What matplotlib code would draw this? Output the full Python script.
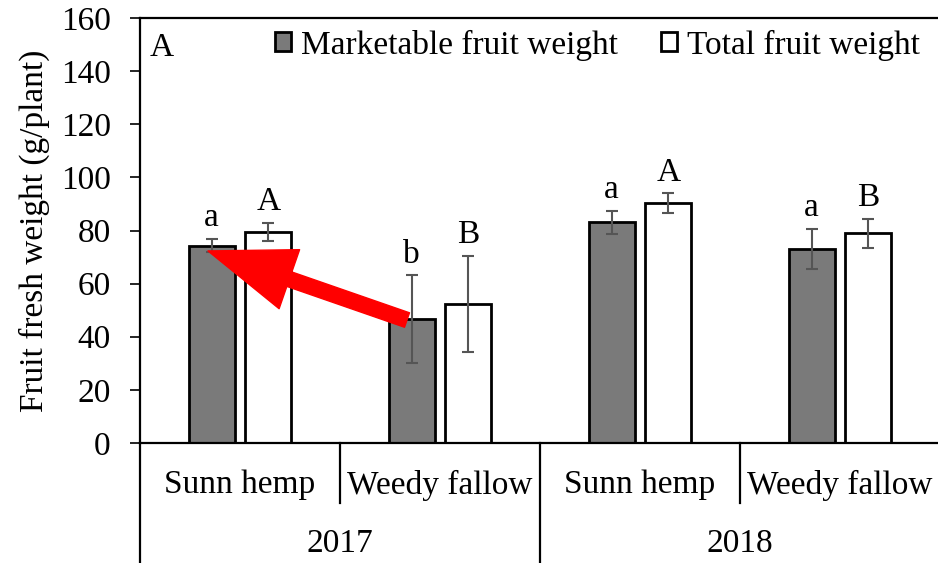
import matplotlib
matplotlib.use("Agg")
import matplotlib.pyplot as plt
from matplotlib.lines import Line2D
import numpy as np

plt.rcParams["font.family"] = ["Liberation Serif", "DejaVu Serif"]
plt.rcParams["font.size"] = 24

# data
treatments = ["Sunn hemp", "Weedy fallow", "Sunn hemp", "Weedy fallow"]
years = ["2017", "2018"]
marketable = [74.3, 46.7, 83.1, 73.0]
marketable_err = [2.5, 16.5, 4.4, 7.6]
total = [79.5, 52.3, 90.3, 79.0]
total_err = [3.5, 18.2, 3.7, 5.5]
letters_mkt = ["a", "b", "a", "a"]
letters_tot = ["A", "B", "A", "B"]

W, H = 938, 563
fig = plt.figure(figsize=(W / 100, H / 100), dpi=100)
ax = fig.add_axes([140 / W, 120 / H, 800 / W, 425 / H])

x = np.arange(len(treatments))
bw, off = 0.23, 0.142
ekw = dict(ecolor="#555555", elinewidth=1.5, capsize=4.5, capthick=1.5)
ax.bar(x - off, marketable, bw, yerr=marketable_err, color="#7a7a7a",
       edgecolor="black", linewidth=2, error_kw=ekw,
       label="Marketable fruit weight", zorder=2)
ax.bar(x + off, total, bw, yerr=total_err, color="white",
       edgecolor="black", linewidth=2, error_kw=ekw,
       label="Total fruit weight", zorder=2)

for xi, v, e, s in zip(x - off, marketable, marketable_err, letters_mkt):
    ax.annotate(s, (xi, v + e), xytext=(0, 9), textcoords="offset points",
                ha="center", va="baseline")
for xi, v, e, s in zip(x + off, total, total_err, letters_tot):
    ax.annotate(s, (xi, v + e), xytext=(0, 9), textcoords="offset points",
                ha="center", va="baseline")

ax.set_xlim(-0.5, 3.5)
ax.set_ylim(0, 160)
ax.set_yticks(np.arange(0, 161, 20))
ax.tick_params(axis="y", direction="out", length=7, width=1.2, pad=14)
ax.set_xticks([])
for sp in ["left", "top", "bottom"]:
    ax.spines[sp].set_linewidth(1.6)
ax.spines["right"].set_visible(False)
ax.set_ylabel("Fruit fresh weight (g/plant)")
ax.yaxis.set_label_coords(-0.113, 0.5)

ax.text(0.012, 0.93, "A", transform=ax.transAxes, ha="left", va="center")
ax.legend(loc="upper right", bbox_to_anchor=(1.0, 1.02), ncol=2, frameon=False,
          handlelength=0.48, handleheight=0.48, handletextpad=0.3,
          columnspacing=1.3, borderaxespad=0.2)

# two-level category axis
trans = ax.get_xaxis_transform()
for xv, y0 in [(-0.5, -0.29), (0.5, -0.141), (1.5, -0.29), (2.5, -0.141)]:
    ax.add_line(Line2D([xv, xv], [0, y0], transform=trans, color="black",
                       lw=1.6, clip_on=False))
for xi, t in zip(x, treatments):
    ax.text(xi, -0.099, t, transform=trans, ha="center", va="center")
for i, yr in enumerate(years):
    ax.text(2 * i + 0.5, -0.236, yr, transform=trans, ha="center", va="center")

# red arrow overlay
ax.annotate("", xy=(-0.16, 72.3), xytext=(0.835, 46.3),
            arrowprops=dict(arrowstyle="simple,head_length=6.2,head_width=4.5,tail_width=1.1",
                            color="#ff0000", shrinkA=0, shrinkB=0,
                            mutation_scale=10), zorder=5)

fig.savefig("out.png", dpi=100)
